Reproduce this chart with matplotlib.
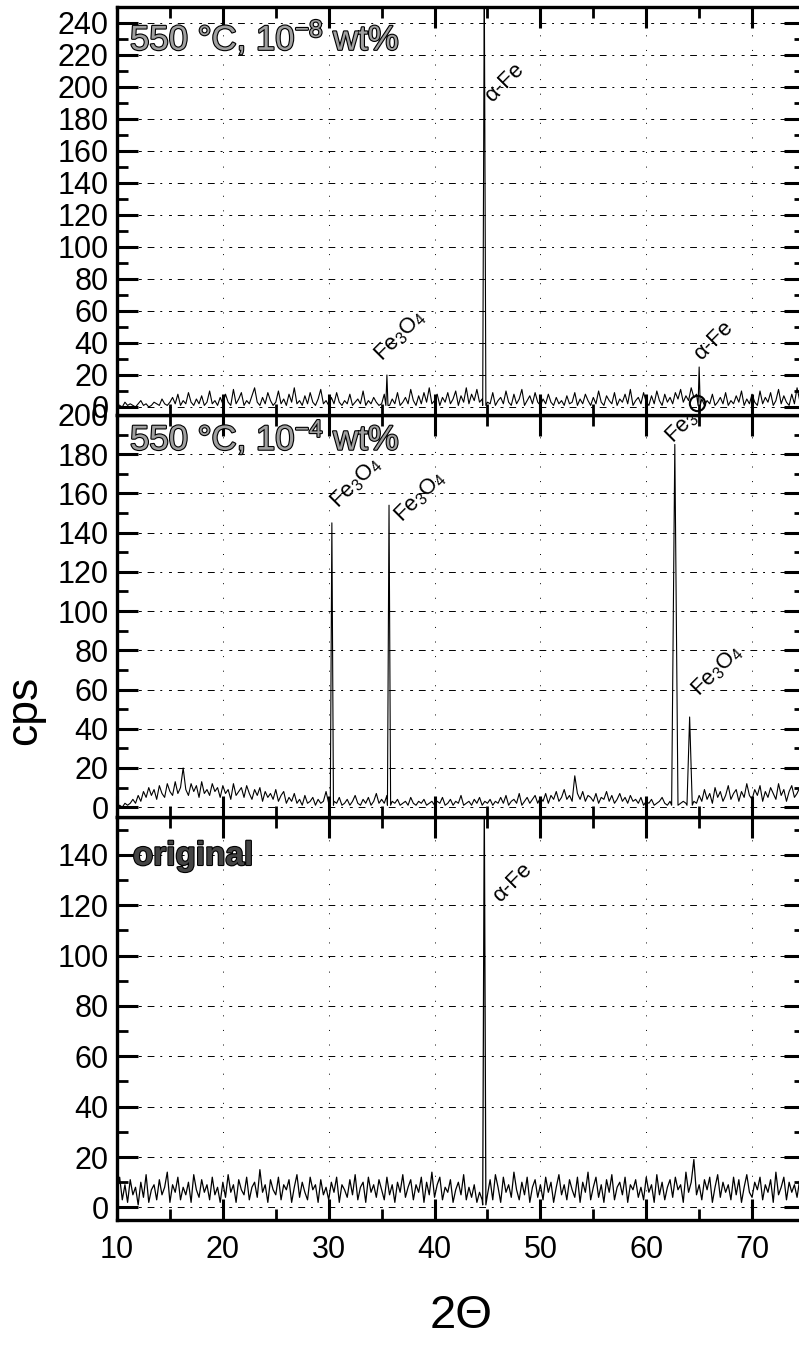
import numpy as np
import matplotlib
matplotlib.use("Agg")
import matplotlib.pyplot as plt
import matplotlib.patheffects as pe
from matplotlib.ticker import MultipleLocator

plt.rcParams['font.family'] = ['Liberation Sans', 'DejaVu Sans']
plt.rcParams['mathtext.fontset'] = 'custom'
plt.rcParams['mathtext.rm'] = 'Liberation Sans'
plt.rcParams['mathtext.it'] = 'Liberation Sans:italic'

# 2-theta sampling of the background, 0.25 deg steps from 10 to 75
two_theta = np.arange(10, 75.001, 0.25)

# background counts, one row per 5 degrees
noise_1e8 = [
    2, 1, 0, 3, 1, 2, 1, 0, 2, 4, 1, 2, 0, 1, 3, 2, 1, 5, 2, 1,
    3, 6, 2, 8, 1, 4, 2, 9, 3, 1, 5, 2, 7, 1, 3, 10, 2, 4, 1, 6,
    2, 8, 3, 1, 11, 2, 5, 9, 1, 4, 2, 7, 12, 3, 1, 6, 2, 9, 4, 1,
    3, 10, 2, 5, 1, 8, 3, 12, 2, 4, 1, 7, 2, 9, 3, 1, 5, 11, 2, 4,
    1, 6, 2, 9, 3, 1, 4, 2, 8, 1, 3, 5, 2, 10, 1, 4, 2, 6, 3, 1,
    2, 8, 3, 1, 5, 2, 9, 1, 3, 6, 2, 11, 4, 1, 7, 2, 9, 3, 12, 2,
    4, 8, 1, 6, 3, 9, 2, 5, 10, 1, 7, 3, 12, 2, 8, 4, 11, 3, 5, 2,
    3, 2, 9, 1, 4, 6, 2, 10, 3, 1, 8, 2, 5, 11, 1, 4, 7, 2, 9, 3,
    1, 5, 2, 8, 3, 1, 6, 2, 4, 1, 7, 2, 3, 9, 1, 5, 2, 8, 4, 1,
    6, 2, 10, 3, 1, 7, 4, 2, 9, 1, 5, 3, 8, 2, 11, 1, 4, 6, 2, 9,
    3, 1, 7, 2, 10, 4, 1, 8, 3, 6, 2, 9, 5, 11, 3, 7, 4, 12, 6, 8,
    2, 5, 1, 4, 2, 8, 1, 3, 6, 2, 9, 1, 4, 2, 7, 3, 10, 1, 5, 2,
    8, 3, 1, 10, 2, 6, 3, 9, 1, 4, 11, 2, 7, 3, 1, 8, 2, 12, 4, 6,
    3,
]
noise_1e4 = [
    0, 1, 0, 2, 1, 2, 4, 2, 6, 3, 8, 5, 10, 6, 9, 4, 11, 7, 5, 12,
    8, 6, 13, 7, 10, 20, 9, 6, 12, 8, 11, 5, 13, 7, 9, 6, 12, 8, 10, 5,
    11, 7, 9, 4, 12, 6, 8, 10, 5, 11, 7, 4, 9, 6, 10, 3, 8, 5, 7, 4,
    9, 3, 6, 8, 2, 5, 3, 7, 2, 4, 1, 6, 2, 3, 5, 1, 4, 2, 3, 8,
    2, 1, 3, 2, 5, 1, 2, 4, 1, 3, 6, 2, 1, 4, 2, 5, 1, 3, 7, 2,
    4, 2, 6, 1, 3, 2, 4, 1, 2, 3, 1, 5, 2, 1, 3, 2, 4, 1, 2, 3,
    1, 3, 2, 5, 1, 2, 4, 1, 3, 2, 6, 1, 2, 3, 1, 4, 2, 5, 1, 3,
    2, 4, 1, 3, 2, 5, 2, 6, 1, 3, 4, 2, 7, 1, 3, 5, 2, 4, 6, 2,
    5, 3, 7, 2, 6, 4, 8, 3, 5, 9, 4, 6, 3, 16, 7, 4, 8, 3, 6, 5,
    3, 7, 2, 5, 4, 8, 3, 6, 2, 4, 7, 3, 5, 2, 6, 3, 4, 2, 5, 1,
    3, 2, 4, 1, 2, 3, 5, 2, 1, 3, 2, 4, 1, 2, 3, 2, 4, 1, 3, 2,
    6, 3, 9, 4, 7, 2, 10, 5, 8, 3, 6, 11, 4, 7, 9, 3, 8, 5, 12, 6,
    4, 9, 6, 11, 3, 8, 5, 10, 7, 4, 12, 6, 9, 3, 8, 11, 5, 7, 10, 6,
    8,
]
noise_orig = [
    6, 12, 3, 9, 2, 11, 5, 8, 1, 10, 4, 13, 2, 7, 9, 3, 11, 5, 8, 14,
    2, 9, 6, 12, 3, 8, 5, 10, 2, 13, 7, 4, 11, 6, 9, 3, 12, 5, 8, 2,
    10, 4, 13, 6, 9, 2, 11, 7, 5, 12, 3, 8, 10, 4, 15, 6, 9, 2, 11, 7,
    5, 12, 3, 9, 7, 11, 2, 8, 13, 4, 10, 6, 3, 12, 7, 9, 2, 11, 5, 8,
    3, 10, 6, 12, 2, 9, 7, 4, 11, 5, 13, 3, 8, 10, 2, 12, 6, 9, 4, 11,
    7, 3, 12, 5, 9, 2, 10, 6, 13, 4, 8, 11, 3, 9, 6, 12, 2, 10, 5, 14,
    4, 9, 12, 3, 8, 6, 11, 2, 7, 10, 5, 13, 3, 8, 4, 9, 2, 6, 3, 7,
    5, 11, 3, 13, 8, 2, 12, 6, 9, 4, 14, 7, 3, 10, 5, 12, 2, 8, 11, 4,
    9, 3, 12, 6, 10, 2, 8, 13, 5, 9, 3, 11, 7, 4, 12, 2, 10, 6, 14, 3,
    8, 12, 4, 9, 2, 11, 6, 13, 3, 8, 10, 5, 12, 2, 9, 7, 11, 4, 8, 3,
    12, 6, 9, 2, 13, 5, 10, 3, 8, 11, 4, 12, 7, 9, 2, 14, 6, 10, 19, 5,
    9, 3, 11, 7, 12, 2, 8, 13, 4, 10, 6, 9, 3, 12, 5, 11, 2, 8, 13, 6,
    4, 10, 7, 12, 3, 9, 6, 11, 2, 14, 5, 8, 12, 3, 10, 6, 9, 4, 11, 7,
    5,
]

# reflections: (2-theta, cps, half width at base)
peaks_1e8 = [(35.5, 20, 0.1), (44.7, 265, 0.15), (65.0, 25, 0.1)]
peaks_1e4 = [(30.3, 145, 0.15), (35.7, 154, 0.15), (62.7, 185, 0.3), (64.1, 46, 0.25)]
peaks_orig = [(44.7, 160, 0.15)]

fe3o4 = 'Fe$_3$O$_4$'
labels_1e8 = [('α-Fe', 45.4, 190), (fe3o4, 35.0, 28), ('α-Fe', 65.2, 29)]
labels_1e4 = [(fe3o4, 30.9, 152), (fe3o4, 36.9, 145), (fe3o4, 62.5, 185), (fe3o4, 65.0, 56)]
labels_orig = [('α-Fe', 46.2, 121)]


def pattern(noise, peaks):
    x = np.array(two_theta)
    y = np.array(noise, dtype=float)
    keep = np.ones(len(x), dtype=bool)
    for pos, h, hw in peaks:
        keep &= np.abs(x - pos) > hw
    xs, ys = list(x[keep]), list(y[keep])
    for pos, h, hw in peaks:
        xs += [pos - hw, pos, pos + hw]
        ys += [1, h, 1]
    order = np.argsort(xs, kind='stable')
    return np.array(xs)[order], np.array(ys)[order]


def style(ax, ylim):
    ax.set_xlim(10, 75)
    ax.set_ylim(*ylim)
    ax.xaxis.set_major_locator(MultipleLocator(10))
    ax.xaxis.set_minor_locator(MultipleLocator(5))
    ax.yaxis.set_major_locator(MultipleLocator(20))
    ax.yaxis.set_minor_locator(MultipleLocator(10))
    ax.tick_params(which='both', direction='in', top=True, right=True,
                   labelsize=22, width=2.2)
    ax.tick_params(which='major', length=15)
    ax.tick_params(which='minor', length=8, width=2)
    ax.tick_params(axis='y', pad=6)
    ax.tick_params(axis='x', pad=11)
    for s in ax.spines.values():
        s.set_linewidth(2.4)
    ax.grid(axis='y', which='major', color='k', lw=0.7, linestyle=(0, (7, 6, 2, 7, 3, 6)))
    ax.grid(axis='x', which='major', color='k', lw=0.7, linestyle=(0, (1, 14)))
    ax.set_axisbelow(True)


def annotate(ax, items):
    for txt, x, y in items:
        ax.text(x, y, txt, rotation=45, rotation_mode='anchor', ha='left',
                va='baseline', fontsize=16)


fig = plt.figure(figsize=(7.99, 13.47), dpi=100)
left, width = 117 / 799, 688 / 799
ax_bot = fig.add_axes([left, 127 / 1347, width, 403 / 1347], zorder=1)
ax_mid = fig.add_axes([left, 530 / 1347, width, 402 / 1347], zorder=2)
ax_top = fig.add_axes([left, 932 / 1347, width, 408 / 1347], zorder=3)

outline = [pe.Stroke(linewidth=1.6, foreground='k'), pe.Normal()]

# 550 C, 1e-8 wt%
x, y = pattern(noise_1e8, peaks_1e8)
ax_top.plot(x, y, color='k', lw=0.8)
ax_top.plot([64.8], [2.5], marker='o', ms=11, mfc='none', mec='k', mew=1.5)
style(ax_top, (-5, 250))
ax_top.tick_params(labelbottom=False)
annotate(ax_top, labels_1e8)
ax_top.text(0.019, 0.895, '550 °C, 10$^{-8}$ wt%', transform=ax_top.transAxes,
            fontsize=25, color='#a0a0a0', path_effects=outline, va='baseline')

# 550 C, 1e-4 wt%
x, y = pattern(noise_1e4, peaks_1e4)
ax_mid.plot(x, y, color='k', lw=0.8)
style(ax_mid, (-5, 200))
ax_mid.tick_params(labelbottom=False)
annotate(ax_mid, labels_1e4)
ax_mid.text(0.019, 0.913, '550 °C, 10$^{-4}$ wt%', transform=ax_mid.transAxes,
            fontsize=25, color='#a0a0a0', path_effects=outline, va='baseline')

# original
x, y = pattern(noise_orig, peaks_orig)
ax_bot.plot(x, y, color='k', lw=0.9)
style(ax_bot, (-5, 155))
annotate(ax_bot, labels_orig)
ax_bot.text(0.023, 0.881, 'original', transform=ax_bot.transAxes,
            fontsize=24, fontweight='bold', color='#444444', path_effects=outline,
            va='baseline')

fig.text(25 / 799, 1 - 710 / 1347, 'cps', rotation=90, fontsize=32,
         ha='center', va='center')
fig.text(461 / 799, 1 - 1316 / 1347, '2Θ', fontsize=34, ha='center', va='center')

fig.savefig('out.png', dpi=100, facecolor='white')
